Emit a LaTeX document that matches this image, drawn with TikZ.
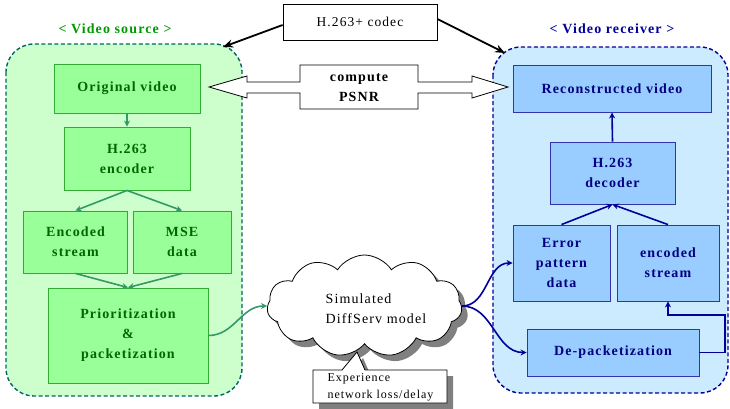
\documentclass[tikz,border=0pt]{standalone}
\usepackage{fontspec}
\setmainfont[LetterSpace=8]{Liberation Serif}
\usetikzlibrary{shapes.symbols,shadows,arrows.meta}

\definecolor{srcfill}{HTML}{CCFFCC}
\definecolor{srcline}{HTML}{006666}
\definecolor{gbox}{HTML}{99FF99}
\definecolor{gedge}{HTML}{33AA33}
\definecolor{gtext}{HTML}{006600}
\definecolor{gtitle}{HTML}{009900}
\definecolor{garrow}{HTML}{339966}
\definecolor{rcvfill}{HTML}{CCEBFF}
\definecolor{rcvline}{HTML}{000099}
\definecolor{bbox}{HTML}{99CCFF}
\definecolor{bedge}{HTML}{3333AA}
\definecolor{btext}{HTML}{000080}

\tikzset{
  container/.style={dash pattern=on 4pt off 2.5pt, line width=1.4pt, rounded corners=28pt},
  dims/.style 2 args={minimum width=#1pt, minimum height=#2pt},
  mainfont/.style={font=\fontsize{14}{20}\selectfont\bfseries},
  gblock/.style={draw=gedge, fill=gbox, line width=0.9pt, text=gtext, mainfont, align=center, inner sep=0pt},
  bblock/.style={draw=bedge, fill=bbox, line width=0.9pt, text=btext, mainfont, align=center, inner sep=0pt},
  garr/.style={draw=garrow, line width=1.6pt, -{Stealth[length=6pt,width=6pt]}},
  barr/.style={draw=rcvline, line width=1.6pt, -{Stealth[length=6pt,width=6pt]}},
  karr/.style={draw=black, line width=1.8pt, -{Stealth[length=10pt,width=8pt]}},
  shade/.style={drop shadow={shadow xshift=6pt, shadow yshift=-6pt, fill=black!50, opacity=1}},
}

\begin{document}
\begin{tikzpicture}[x=1pt, y=-1pt]
\useasboundingbox (0,0) rectangle (730,408);

% sender and receiver panels
\draw[container, draw=srcline, fill=srcfill] (6,44) rectangle (242,396);
\draw[container, draw=rcvline, fill=rcvfill] (493,47) rectangle (728,393);

\node[mainfont, text=gtitle] (srctitle) at (115,29) {< Video source >};
\node[mainfont, text=rcvline] (rcvtitle) at (612,29) {< Video receiver >};

% sender blocks
\node[gblock, dims={146}{49}] (orig) at (127,88.5) {Original video};
\node[gblock, dims={126}{63}] (enc) at (127,158.5) {H.263\\encoder};
\node[gblock, dims={104}{62}] (estream) at (75.5,242) {Encoded\\stream};
\node[gblock, dims={98}{62}] (mse) at (182,242) {MSE\\data};
\node[gblock, dims={160}{95}] (prio) at (128,335.5) {Prioritization\\\&\\packetization};

\draw[garr] (orig.south) -- (enc.north);
\draw[garr] (enc.south) -- (estream.north);
\draw[garr] (enc.south) -- (mse.north);
\draw[garr] (estream.south) -- (prio.north);
\draw[garr] (mse.south) -- (prio.north);

% receiver blocks
\node[bblock, dims={198}{47}] (recon) at (612,88.5) {Reconstructed video};
\node[bblock, dims={125}{62}] (dec) at (612.5,173) {H.263\\decoder};
\node[bblock, dims={97}{76}] (err) at (561.5,263) {Error\\pattern\\data};
\node[bblock, dims={102}{76}] (estr2) at (668,263) {encoded\\stream};
\node[bblock, dims={172}{47}] (depack) at (613,352.5) {De-packetization};

\draw[barr] (dec.north) -- (recon.south);
\draw[barr] (err.north) -- (dec.south);
\draw[barr] (estr2.north) -- (dec.south);
\coordinate (bend) at (725,315);
\draw[barr] (depack.east) -| (bend) -| (estr2.south);

% codec label with its two arrows
\node[draw, line width=0.8pt, fill=white, dims={154}{36}, inner sep=0pt,
      font=\fontsize{13.5}{16}\selectfont] (codec) at (360,22) {H.263+ codec};
\coordinate (srccorner) at (223,47);
\coordinate (rcvcorner) at (505,53);
\draw[karr] ([yshift=-3pt]codec.west) -- (srccorner);
\draw[karr] ([yshift=3pt]codec.east) -- (rcvcorner);

% two-headed block arrow: compute PSNR
\draw[fill=white, line width=0.8pt]
  (209,87) -- (247,76) -- (247,82) -- (300,82) -- (300,65) -- (418,65) -- (418,82)
  -- (472,82) -- (472,76) -- (508,87) -- (472,98) -- (472,93) -- (418,93)
  -- (418,109) -- (300,109) -- (300,93) -- (247,93) -- (247,98) -- cycle;
\node[mainfont, align=center] (psnr) at (359,88) {compute\\PSNR};

% network cloud
\node[cloud, cloud puffs=11, cloud puff arc=115, aspect=1.9, draw, fill=white,
      line width=0.8pt, inner sep=0pt, dims={195}{102}, shade] (cloud) at (364.5,306) {};
\node[font=\fontsize{14}{20}\selectfont, align=left] (cloudtext) at (376,309) {Simulated\\DiffServ model};

% speech-bubble note below the cloud, with its shadow
\fill[black!50] (319,376) -- (348,376) -- (363,358) -- (371,376) -- (453,376)
  -- (453,409) -- (319,409) -- cycle;
\draw[fill=white, line width=0.8pt] (313,370) -- (342,370) -- (357,352) -- (365,370)
  -- (447,370) -- (447,403) -- (313,403) -- cycle;
\node[align=left, font=\fontsize{12}{17}\selectfont] (exper) at (380.5,387) {Experience\\network loss/delay};

\draw[garr] (prio.east) to[out=0, in=180] (cloud.west);
\draw[barr] (cloud.east) to[out=0, in=180] (err.west);
\draw[barr] (cloud.east) to[out=0, in=180] (depack.west);
\end{tikzpicture}
\end{document}
